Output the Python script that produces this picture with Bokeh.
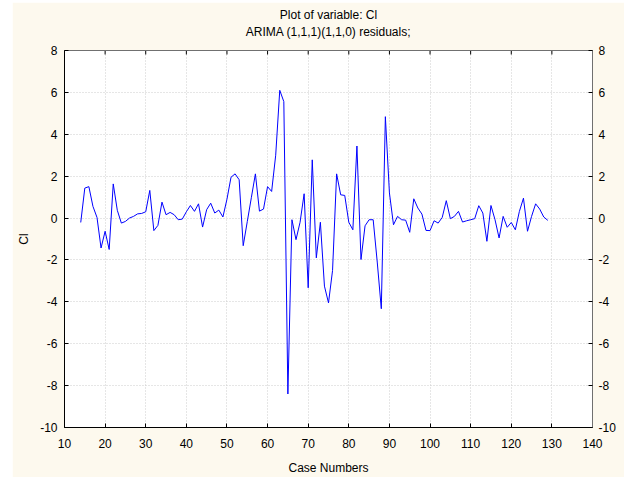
from bokeh.plotting import figure
from bokeh.models import LinearAxis, FixedTicker, Range1d, Spacer, Title
from bokeh.layouts import row, column
from bokeh.embed import file_html
from bokeh.resources import INLINE

case_numbers = list(range(14, 130))
residuals = [
    -0.21, 1.43, 1.50, 0.56, 0.03, -1.43, -0.63, -1.50, 1.63, 0.37,   # 14-23
    -0.24, -0.16, 0.00, 0.08, 0.20, 0.22, 0.30, 1.32, -0.60, -0.35,   # 24-33
    0.76, 0.16, 0.27, 0.16, -0.08, -0.05, 0.30, 0.60, 0.32, 0.68,     # 34-43
    -0.43, 0.40, 0.71, 0.24, 0.38, 0.05, 0.90, 1.95, 2.11, 1.83,      # 44-53
    -1.32, -0.17, 0.97, 2.11, 0.33, 0.43, 1.50, 1.27, 3.00, 6.10,     # 54-63
    5.56, -8.40, -0.08, -1.03, -0.20, 1.16, -3.33, 2.78, -1.90, -0.20,  # 64-73
    -3.25, -4.05, -2.50, 2.11, 1.11, 1.08, -0.20, -0.56, 3.44, -1.98,   # 74-83
    -0.37, -0.08, -0.08, -2.10, -4.33, 4.84, 1.20, -0.32, 0.08, -0.08,  # 84-93
    -0.10, -0.68, 0.92, 0.48, 0.19, -0.59, -0.60, -0.13, -0.24, 0.03,   # 94-103
    0.83, -0.03, 0.08, 0.32, -0.19, -0.13, -0.08, -0.03, 0.59, 0.24,    # 104-113
    -1.11, 0.60, -0.08, -0.95, 0.08, -0.44, -0.21, -0.56, 0.32, 0.95,   # 114-123
    -0.63, 0.08, 0.68, 0.43, 0.05, -0.11,                               # 124-129
]
x_ticks = [10, 20, 30, 40, 50, 60, 70, 80, 90, 100, 110, 120, 130, 140]
y_ticks = [-10, -8, -6, -4, -2, 0, 2, 4, 6, 8]

title_line1 = "Plot of variable: Cl"
title_line2 = "ARIMA (1,1,1)(1,1,0) residuals;"
x_label = "Case Numbers"
y_label = "Cl"

FONT = "Liberation Sans"
CREAM = "#fdf9ee"
X_MIN, X_MAX = 10, 140
Y_MIN, Y_MAX = -10, 8
FRAME_H = 378

p = figure(width=612, height=475, output_backend="svg", toolbar_location=None,
           x_range=Range1d(X_MIN, X_MAX), y_range=Range1d(Y_MIN, Y_MAX),
           min_border_left=52, min_border_right=32, min_border_top=48,
           min_border_bottom=49, x_axis_label=x_label, y_axis_label=y_label)
p.title = None
p.background_fill_color = "white"
p.border_fill_color = CREAM
p.outline_line_color = "#707070"
p.outline_line_width = 1

p.add_layout(LinearAxis(), "right")

for ax in p.xaxis:
    ax.ticker = FixedTicker(ticks=x_ticks)
for ax in p.yaxis:
    ax.ticker = FixedTicker(ticks=y_ticks)
    ax.major_label_overrides = {v: str(v) for v in y_ticks}

for ax in p.axis:
    ax.major_tick_in = 4
    ax.major_tick_out = 0
    ax.minor_tick_in = 0
    ax.minor_tick_out = 0
    ax.major_tick_line_color = "black"
    ax.major_label_text_font = FONT
    ax.major_label_text_font_size = "12px"
    ax.major_label_text_color = "black"
    ax.axis_label_text_font = FONT
    ax.axis_label_text_font_size = "12px"
    ax.axis_label_text_font_style = "normal"
    ax.axis_label_text_color = "black"

left = p.left[0]
bottom = p.below[0]
right = p.right[0]

left.axis_line_color = "black"
bottom.axis_line_color = "black"
right.axis_line_color = "#707070"

left.major_label_standoff = 7
left.axis_label_standoff = 6
right.major_label_standoff = 6
bottom.major_label_standoff = 11
bottom.axis_label_standoff = 10

# second title line: label of an (otherwise empty) top axis, centred over the frame
top = LinearAxis(ticker=FixedTicker(ticks=[]), axis_label=title_line2,
                 axis_label_standoff=12, major_label_standoff=0,
                 major_tick_in=0, major_tick_out=0, minor_tick_in=0, minor_tick_out=0,
                 axis_line_color="#707070", axis_label_text_font=FONT,
                 axis_label_text_font_size="12px", axis_label_text_font_style="normal",
                 axis_label_text_color="black")
p.add_layout(top, "above")
# first title line
p.add_layout(Title(text=title_line1, align="center", text_font=FONT, text_font_size="12px",
                   text_font_style="normal", text_color="black", standoff=0), "above")

p.xgrid.ticker = FixedTicker(ticks=x_ticks)
p.ygrid.ticker = FixedTicker(ticks=y_ticks)
p.grid.grid_line_color = "#cccccc"
p.grid.grid_line_dash = "1 2"
p.grid.grid_line_width = 1

# inward tick marks along the top frame (4 px long)
px_y = (Y_MAX - Y_MIN) / FRAME_H
p.segment(x0=x_ticks, y0=[Y_MAX] * len(x_ticks), x1=x_ticks,
          y1=[Y_MAX - 4 * px_y] * len(x_ticks), line_color="black", line_width=1)

p.line(case_numbers, residuals, line_color="#0000ff", line_width=1)

layout = column(Spacer(height=2, width=624), row(Spacer(width=12, height=475), p))

open("out.html", "w").write(file_html(layout, INLINE))
